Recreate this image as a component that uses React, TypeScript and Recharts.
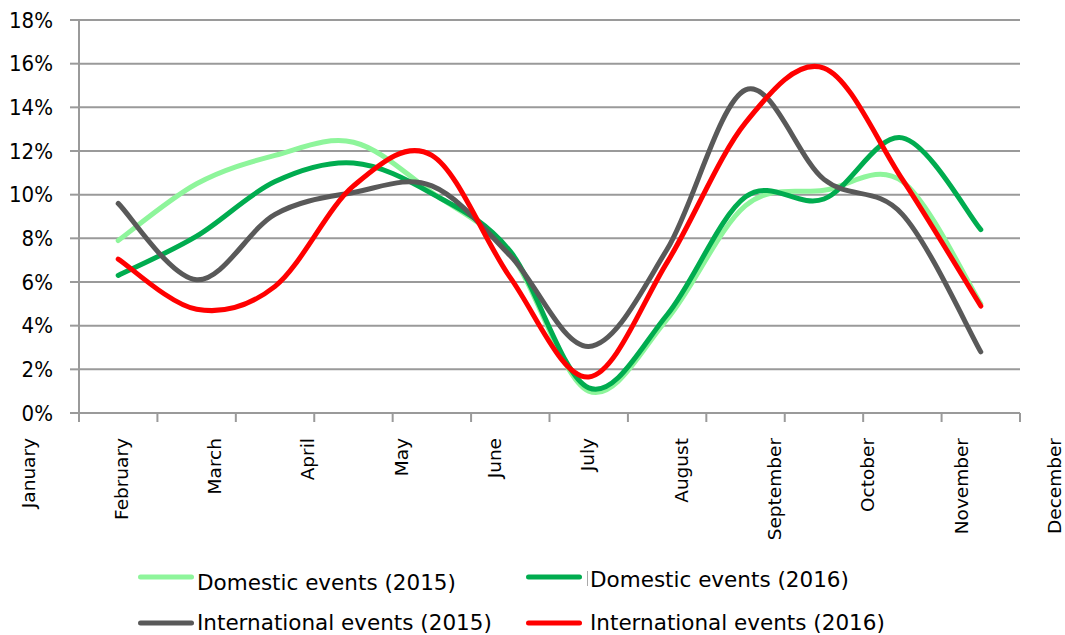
import { LineChart, Line, XAxis, YAxis, CartesianGrid, Legend } from "recharts";

const months = [
  "January",
  "February",
  "March",
  "April",
  "May",
  "June",
  "July",
  "August",
  "September",
  "October",
  "November",
  "December",
];

// shares of events per month, in %
const domestic2015 = [7.9, 10.5, 11.8, 12.4, 10.1, 7.3, 1.0, 4.3, 9.5, 10.2, 10.6, 5.0];
const domestic2016 = [6.3, 8.1, 10.6, 11.45, 10.05, 7.4, 1.15, 4.5, 9.9, 9.8, 12.6, 8.4];
const international2015 = [9.6, 6.1, 9.1, 10.1, 10.4, 7.2, 3.05, 7.5, 14.8, 10.7, 9.1, 2.8];
const international2016 = [7.05, 4.75, 5.8, 10.4, 11.8, 6.2, 1.65, 6.9, 13.3, 15.8, 10.7, 4.9];

const yTicks = [0, 2, 4, 6, 8, 10, 12, 14, 16, 18];

const series = [
  { key: "domestic2015", name: "Domestic events (2015)", color: "#8ef59b", values: domestic2015 },
  { key: "domestic2016", name: "Domestic events (2016)", color: "#00ac4f", values: domestic2016 },
  { key: "international2015", name: "International events (2015)", color: "#595959", values: international2015 },
  { key: "international2016", name: "International events (2016)", color: "#ff0000", values: international2016 },
];

const chartData = months.map((month, i) => {
  const row: Record<string, number | string> = { idx: i, month };
  series.forEach((s) => {
    row[s.key] = s.values[i];
  });
  return row;
});

// tick marks sit on the borders between months
const xTicks = [...months.map((_, i) => i - 0.5), months.length - 0.5];

const GRID = "#9a9a9a";

// smoothed line like the spreadsheet one (Catmull-Rom through the points)
const smoothCurve = (ctx: any) => {
  let pts: number[][] = [];
  return {
    areaStart() {},
    areaEnd() {},
    lineStart() {
      pts = [];
    },
    point(x: number, y: number) {
      pts.push([+x, +y]);
    },
    lineEnd() {
      if (!pts.length) return;
      ctx.moveTo(pts[0][0], pts[0][1]);
      for (let i = 0; i < pts.length - 1; i++) {
        const p0 = pts[Math.max(i - 1, 0)];
        const p1 = pts[i];
        const p2 = pts[i + 1];
        const p3 = pts[Math.min(i + 2, pts.length - 1)];
        ctx.bezierCurveTo(
          p1[0] + (p2[0] - p0[0]) / 6,
          p1[1] + (p2[1] - p0[1]) / 6,
          p2[0] - (p3[0] - p1[0]) / 6,
          p2[1] - (p3[1] - p1[1]) / 6,
          p2[0],
          p2[1]
        );
      }
    },
  };
};

function MonthTick(props: any) {
  const { x, y, payload } = props;
  const k = Math.round(payload.value + 0.5);
  if (k < 0 || k >= months.length) return null;
  // the labels drift wider apart than the month slots
  const lx = x - 44.5 + k * 14.9;
  return (
    <text
      x={lx}
      y={y}
      transform={`rotate(-90 ${lx} ${y})`}
      textAnchor="end"
      fontFamily="DejaVu Sans"
      fontSize={18.5}
      fill="#000"
    >
      {months[k]}
    </text>
  );
}

const legendPlaces = [
  { x: 138, y: 34, tx: 197, ty: 47 },
  { x: 526, y: 34, tx: 590, ty: 44 },
  { x: 138, y: 80, tx: 197, ty: 87 },
  { x: 526, y: 80, tx: 590, ty: 87 },
];

function ChartLegend() {
  return (
    <svg width={1065} height={92} style={{ display: "block" }}>
      {series.map((s, i) => {
        const p = legendPlaces[i];
        return (
          <g key={s.key}>
            <line
              x1={p.x + 2.5}
              x2={p.x + 53.5}
              y1={p.y}
              y2={p.y}
              stroke={s.color}
              strokeWidth={5}
              strokeLinecap="round"
            />
            <text x={p.tx} y={p.ty} fontFamily="DejaVu Sans" fontSize={21.5} fill="#000">
              {s.name}
            </text>
          </g>
        );
      })}
      <line x1={587.5} x2={587.5} y1={28} y2={43} stroke="#aaa" strokeWidth={1} />
    </svg>
  );
}

export default function App() {
  return (
    <div style={{ position: "absolute", left: 0, top: 0, background: "#fff" }}>
      <LineChart
        width={1065}
        height={635}
        data={chartData}
        margin={{ top: 20, right: 45, left: 0, bottom: 0 }}
      >
        <CartesianGrid vertical={false} stroke={GRID} strokeWidth={2} />
        <XAxis
          type="number"
          dataKey="idx"
          domain={[-0.5, 11.5]}
          ticks={xTicks}
          interval={0}
          height={130}
          tickSize={9}
          tickMargin={16}
          axisLine={{ stroke: GRID, strokeWidth: 2 }}
          tickLine={{ stroke: GRID, strokeWidth: 2 }}
          tick={<MonthTick />}
        />
        <YAxis
          domain={[0, 18]}
          ticks={yTicks}
          interval={0}
          width={79}
          tickSize={9}
          tickMargin={17}
          tickFormatter={(v: number) => `${v}%`}
          axisLine={{ stroke: GRID, strokeWidth: 2 }}
          tickLine={{ stroke: GRID, strokeWidth: 2 }}
          tick={{ fill: "#000", fontSize: 22, fontFamily: "DejaVu Sans Condensed, DejaVu Sans" }}
        />
        <Legend
          verticalAlign="bottom"
          wrapperStyle={{ left: 0, width: 1065, height: 92 }}
          content={() => <ChartLegend />}
        />
        {series.map((s) => (
          <Line
            key={s.key}
            type={smoothCurve as any}
            dataKey={s.key}
            name={s.name}
            stroke={s.color}
            strokeWidth={5}
            strokeLinecap="round"
            strokeLinejoin="round"
            dot={false}
            activeDot={false}
            isAnimationActive={false}
          />
        ))}
      </LineChart>
    </div>
  );
}
